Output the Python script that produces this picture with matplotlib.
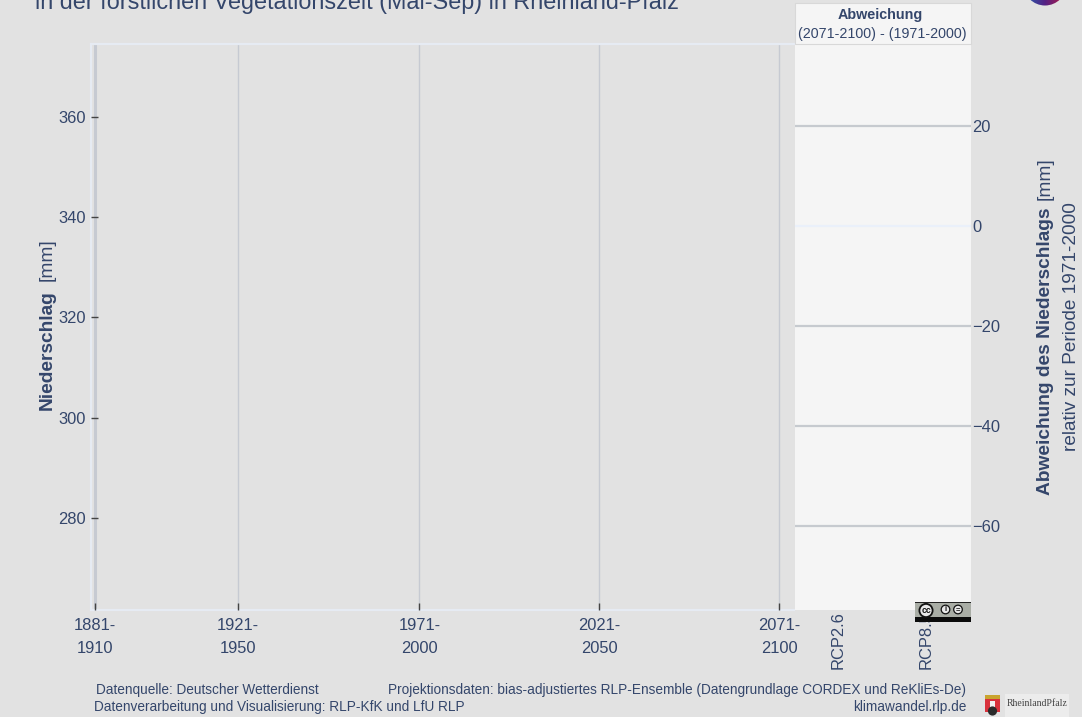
import numpy as np
import matplotlib
matplotlib.use("Agg")
import matplotlib.pyplot as plt
from matplotlib.patches import Rectangle, Circle, Ellipse

W, H = 1082, 717
plt.rcParams['font.family'] = ['Liberation Sans', 'DejaVu Sans']

# --- chart content ---
period_labels = ["1881-\n1910", "1921-\n1950", "1971-\n2000", "2021-\n2050", "2071-\n2100"]
period_centres = [1895.5, 1935.3, 1985.6, 2035.6, 2085.5]
abs_ticks = [280, 300, 320, 340, 360]
anom_ticks = [20, 0, -20, -40, -60]
scenario_labels = ["RCP2.6", "RCP8.5"]
scenario_pos = [0.245, 0.745]

TXT = '#34466b'
BG = '#e2e2e2'
GRID = '#c6cad2'
HGRID = '#c6cacf'
EDGE = '#e6ebf3'
TICK = '#444444'
FS = 11.9
TITLE_FS = 13.8


def px_rect(x0, y0, x1, y1):
    return [x0 / W, 1 - y1 / H, (x1 - x0) / W, (y1 - y0) / H]


def ftext(x, y, s, **kw):
    kw.setdefault('color', TXT)
    kw.setdefault('fontsize', FS)
    return fig.text(x / W, 1 - y / H, s, **kw)


fig = plt.figure(figsize=(W / 100, H / 100), dpi=100, facecolor=BG)

# --- main panel ---
ax = fig.add_axes(px_rect(91, 44, 794, 610), facecolor=BG)
ax.set_xlim(1895.5 - 4 / 3.6, 1895.5 + (794 - 95) / 3.6)
ax.set_ylim(360 - 493 / 5.01, 360 + 73 / 5.01)
for i, c in enumerate(period_centres):
    ax.axvline(c, color=GRID, lw=2.2 if i == 0 else 1.0, zorder=1)
ax.set_xticks(period_centres, period_labels)
ax.set_yticks(abs_ticks)
ax.set_axisbelow(False)
ax.tick_params(axis='x', direction='in', length=5, width=1, color=TICK,
               labelcolor=TXT, labelsize=FS, pad=6)
ax.tick_params(axis='y', direction='in', length=5, width=1, color=TICK,
               labelcolor=TXT, labelsize=FS, pad=3.5)
for lab in ax.get_xticklabels():
    lab.set_linespacing(1.6)
ax.spines['right'].set_visible(False)
for s in ('top', 'left', 'bottom'):
    ax.spines[s].set_color(EDGE)
    ax.spines[s].set_linewidth(1.6)

# --- anomaly panel ---
ax2 = fig.add_axes(px_rect(795, 44, 971, 610), facecolor='#f5f5f5')
ax2.set_xlim(0, 1)
ax2.set_ylim(-60 - 84 / 5, 20 + 82 / 5)
for v in anom_ticks:
    ax2.axhline(v, color='#eaf0fa' if v == 0 else HGRID, lw=1.6, zorder=1)
ax2.set_xticks(scenario_pos, scenario_labels, rotation=90)
ax2.yaxis.tick_right()
ax2.set_yticks(anom_ticks)
ax2.tick_params(axis='x', length=0, labelcolor=TXT, labelsize=FS, pad=1)
ax2.tick_params(axis='y', length=0, labelcolor=TXT, labelsize=FS, pad=1)
for s in ax2.spines.values():
    s.set_visible(False)

# header box of the anomaly panel
fig.add_artist(Rectangle((795 / W, 1 - 44 / H), 176 / W, 41 / H, transform=fig.transFigure,
                         facecolor='#f5f5f5', edgecolor='#d8d8d8', lw=0.8, zorder=2))
ftext(880, 15.5, "Abweichung", ha='center', va='center', fontweight='bold', fontsize=10.4, zorder=3)
ftext(882, 34, "(2071-2100) - (1971-2000)", ha='center', va='center', fontsize=10.3, zorder=3)

# --- titles and axis titles ---
ftext(35, 8.5, "in der forstlichen Vegetationszeit (Mai-Sep) in Rheinland-Pfalz",
      ha='left', va='baseline', fontsize=16.85)
ftext(47, 350, "Niederschlag", rotation=90, ha='center', va='center', fontweight='bold', fontsize=TITLE_FS)
ftext(47, 260, "[mm]", rotation=90, ha='center', va='center', fontsize=TITLE_FS)

ftext(1045.5, 351, "Abweichung des Niederschlags", rotation=90, ha='center', va='center',
      fontweight='bold', fontsize=TITLE_FS)
ftext(1045.5, 179, "[mm]", rotation=90, ha='center', va='center', fontsize=TITLE_FS)
ftext(1071, 327, "relativ zur Periode 1971-2000", rotation=90, ha='center', va='center', fontsize=13.7)

# --- footer ---
FFS = 9.85
ftext(96, 690, "Datenquelle: Deutscher Wetterdienst", ha='left', va='center', fontsize=FFS)
ftext(94, 707, "Datenverarbeitung und Visualisierung: RLP-KfK und LfU RLP", ha='left', va='center', fontsize=FFS)
ftext(966, 690, "Projektionsdaten: bias-adjustiertes RLP-Ensemble (Datengrundlage CORDEX und ReKliEs-De)",
      ha='right', va='center', fontsize=FFS)
ftext(967, 707, "klimawandel.rlp.de", ha='right', va='center', fontsize=FFS)

# --- pictorial badges, pixel-addressed overlay ---
ov = fig.add_axes([0, 0, 1, 1], facecolor='none', zorder=5)
ov.set_xlim(0, W)
ov.set_ylim(H, 0)
ov.axis('off')

# CC badge
ov.add_patch(Rectangle((915, 602), 56, 20, fc='#a9ada5', ec='none'))
ov.add_patch(Rectangle((915, 602), 56, 1.2, fc='#222222', ec='none'))
ov.add_patch(Rectangle((915, 617), 56, 5, fc='#0b0b0b', ec='none'))
ov.add_patch(Circle((926, 610.5), 6.6, fc='#e8e8e8', ec='#111111', lw=1.3))
ov.text(926, 610.5, "cc", ha='center', va='center', fontsize=6.2, fontweight='bold', color='#111111')
for cx, s in ((945.5, "i"), (958, "=")):
    ov.add_patch(Circle((cx, 609.5), 4.3, fc='#e8e8e8', ec='#111111', lw=0.9))
    ov.text(cx, 609.5, s, ha='center', va='center', fontsize=5.5, fontweight='bold', color='#111111')

# Rhineland-Palatinate logo
ov.add_patch(Rectangle((1005, 694), 64, 23, fc='#ececec', ec='none'))
ov.add_patch(Rectangle((985, 698), 15, 14, fc='#d8323c', ec='none'))
ov.add_patch(Rectangle((985, 695), 15, 3.5, fc='#c9a42e', ec='none'))
ov.add_patch(Rectangle((990, 701), 5, 7, fc='#f1f1f1', ec='none'))
ov.add_patch(Circle((992.5, 711), 4.6, fc='#2b2b2b', ec='none'))
ov.text(1007, 703, "RheinlandPfalz", ha='left', va='center', fontsize=7, color='#444444',
        family='Liberation Serif')

# round logo at the top right, cut by the figure edge
n = 42
img = np.zeros((8, n, 4))
c0, c1, c2 = np.array([.15, .38, .68]), np.array([.33, .13, .52]), np.array([.72, .10, .25])
for j, f in enumerate(np.linspace(0, 1, n)):
    rgb = c0 + (c1 - c0) * f * 2 if f < .5 else c1 + (c2 - c1) * (f - .5) * 2
    img[:, j, :3] = rgb
    img[:, j, 3] = 1
im = ov.imshow(img, extent=(1024, 1066, 8, 0), aspect='auto', zorder=2)
clip = Ellipse((1045, -16), 43, 43, transform=ov.transData)
im.set_clip_path(clip)
ov.set_xlim(0, W)
ov.set_ylim(H, 0)

fig.savefig("out.png", dpi=100, facecolor=BG)
